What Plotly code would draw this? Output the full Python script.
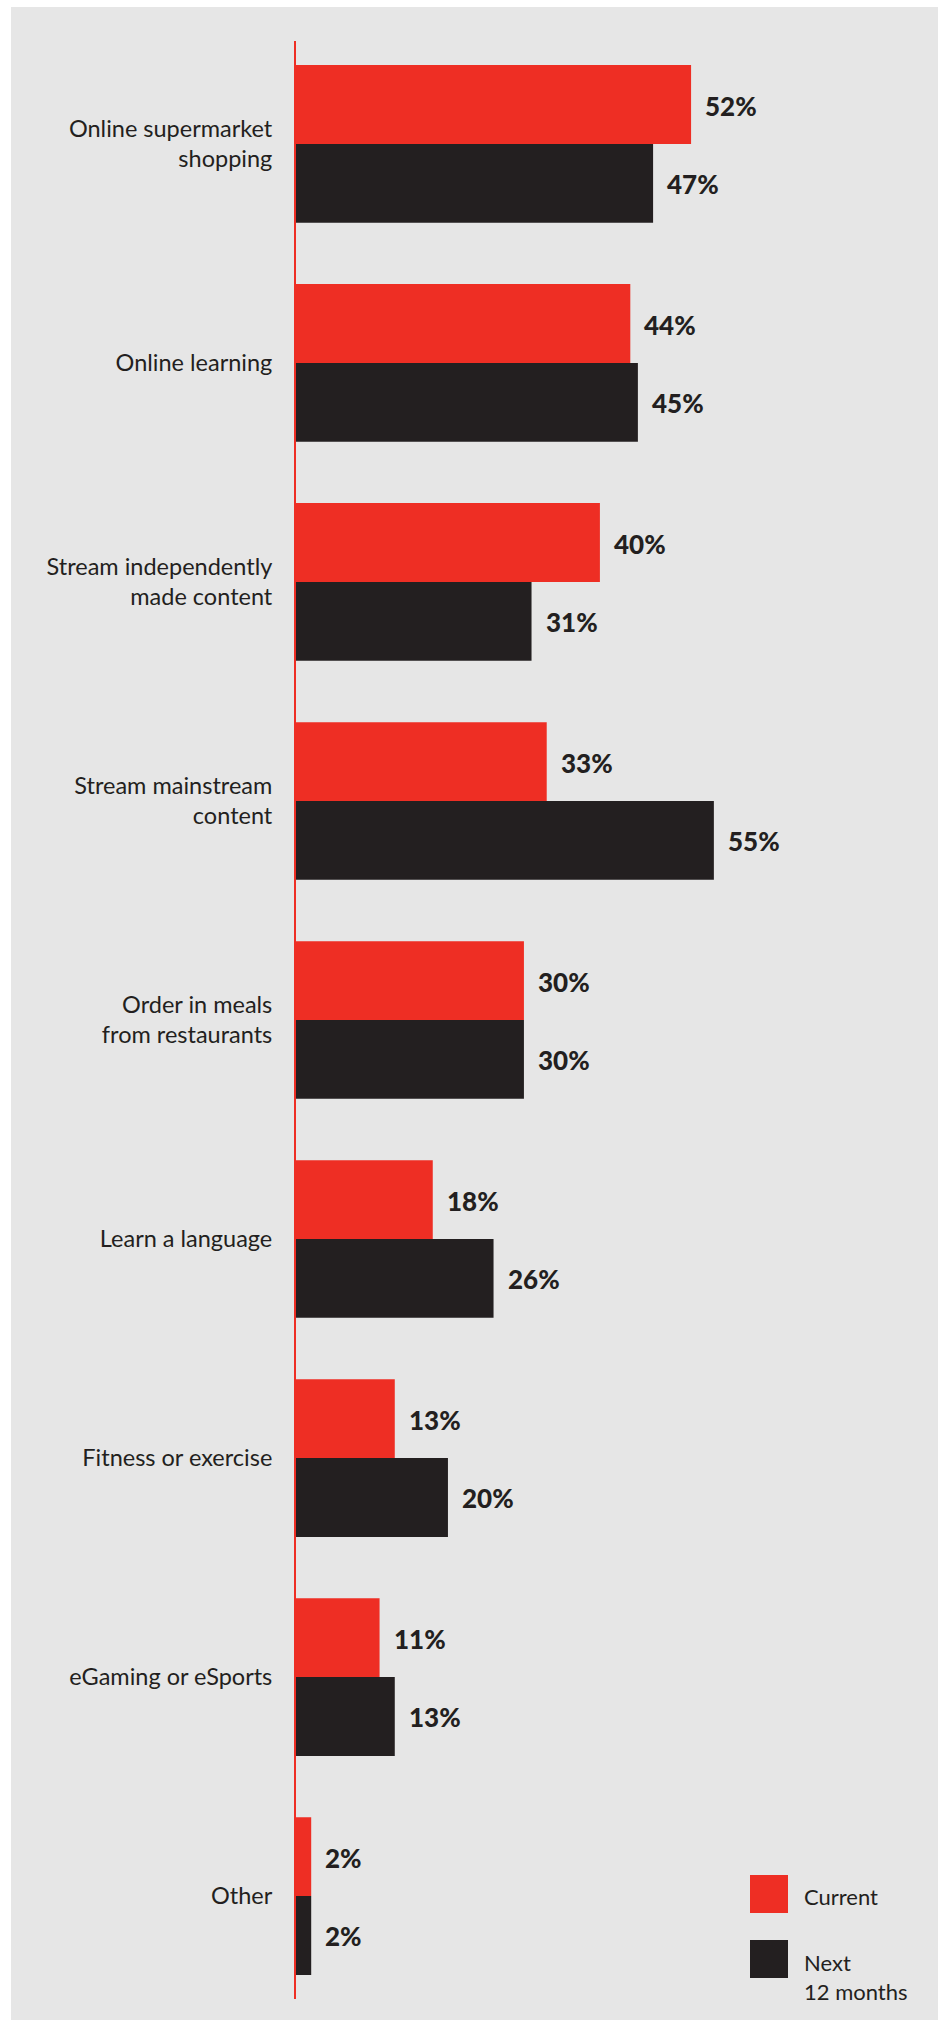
import plotly.graph_objects as go

# Survey categories and shares (%)
categories = [
    "Online supermarket<br>shopping",
    "Online learning",
    "Stream independently<br>made content",
    "Stream mainstream<br>content",
    "Order in meals<br>from restaurants",
    "Learn a language",
    "Fitness or exercise",
    "eGaming or eSports",
    "Other",
]
current = [52, 44, 40, 33, 30, 18, 13, 11, 2]
next_12_months = [47, 45, 31, 55, 30, 26, 20, 13, 2]
series_names = ["Current", "Next<br>12 months"]

RED = "#ee2e24"
DARK = "#231f20"
BG = "#e6e6e6"

W, H = 938, 2020
M_L, M_R, M_T, M_B = 296, 0, 41, 21
PW, PH = W - M_L - M_R, H - M_T - M_B
BARGAP = 0.28
X_MAX = 84.5


def px_x(px):
    return (px - M_L) / PW


def px_y(py):
    return (H - M_B - py) / PH


fig = go.Figure()
fig.add_trace(go.Bar(
    y=categories, x=current, orientation="h", name="Current",
    marker=dict(color=RED, line=dict(width=0)),
))
fig.add_trace(go.Bar(
    y=categories, x=next_12_months, orientation="h", name="Next 12 months",
    marker=dict(color=DARK, line=dict(width=0)),
))

# value labels to the right of each bar
half = (1 - BARGAP) / 4
annotations = []
for i, (c, n) in enumerate(zip(current, next_12_months)):
    for val, off in ((c, -half), (n, half)):
        annotations.append(dict(
            x=val, y=i + off, xref="x", yref="y",
            text=f"{val}%", showarrow=False,
            xanchor="left", yanchor="middle", xshift=12, yshift=-1,
            font=dict(family="Lato", size=26, color=DARK, weight=900),
        ))

# legend
legend_font = dict(family="Lato", size=22, color=DARK)
annotations.append(dict(
    x=px_x(802), y=px_y(1896), xref="paper", yref="paper",
    text=series_names[0], showarrow=False, xanchor="left", yanchor="middle",
    font=legend_font,
))
annotations.append(dict(
    x=px_x(802), y=px_y(1961), xref="paper", yref="paper",
    text=series_names[1], showarrow=False, xanchor="left", yanchor="top",
    yshift=14, align="left", font=legend_font,
))

shapes = [
    # panel background
    dict(type="rect", xref="paper", yref="paper",
         x0=px_x(11), x1=px_x(W + 5), y0=px_y(7), y1=px_y(H + 5),
         fillcolor=BG, line=dict(width=0), layer="below"),
    # legend swatches
    dict(type="rect", xref="paper", yref="paper",
         x0=px_x(750), x1=px_x(788), y0=px_y(1913), y1=px_y(1875),
         fillcolor=RED, line=dict(width=0)),
    dict(type="rect", xref="paper", yref="paper",
         x0=px_x(750), x1=px_x(788), y0=px_y(1978), y1=px_y(1940),
         fillcolor=DARK, line=dict(width=0)),
]

fig.update_layout(
    width=W, height=H,
    margin=dict(l=M_L, r=M_R, t=M_T, b=M_B, pad=0),
    paper_bgcolor="white",
    plot_bgcolor="rgba(0,0,0,0)",
    barmode="group", bargap=BARGAP, bargroupgap=0,
    showlegend=False,
    annotations=annotations,
    shapes=shapes,
    xaxis=dict(range=[0, X_MAX], visible=False, fixedrange=True),
    yaxis=dict(
        autorange=False, range=[len(categories) - 0.53, -0.47],
        showline=True, linecolor=RED, linewidth=2,
        showgrid=False, zeroline=False, ticks="",
        ticklabelstandoff=17,
        tickfont=dict(family="Lato", size=23.5, color=DARK),
    ),
)

fig.write_html("out.html")
